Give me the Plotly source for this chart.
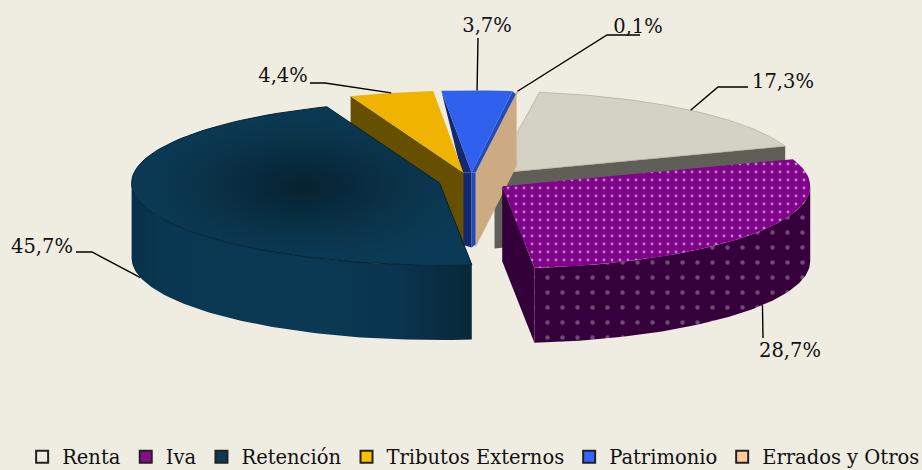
import numpy as np
import plotly.graph_objects as go

categories = ["Renta", "Iva", "Retención", "Tributos Externos", "Patrimonio", "Errados y Otros"]
values = [17.3, 28.7, 45.7, 4.4, 3.7, 0.1]
legend_colors = ["#efece2", "#8a0a8c", "#0b3a55", "#ffc000", "#3366ff", "#ffcc99"]
top_colors = ["#d4d1c5", "#80048a", "#0b3a56", "#f0b400", "#2f60ee", "#ccaa82"]
wall_colors = ["#5f5f57", "#33003a", "#0a3650", "#665000", "#14296e", "#ccaa82"]

START_DEG = 8.4
CX, CY = 471, 181
RX, RY = 308, 82
DEPTH = 75
PULLS = [0.12, 0.12, 0.105, 0.105, 0.105, 0.105]
label_elbows = [[(718, 87), (748, 87)], [(763, 338)], [(92, 252), (76, 252)],
                [(325, 83), (310, 83)], [(478, 38)], [(607, 35), (640, 35)]]
label_pos = [(783, 83), (790, 352), (42, 248), (283, 77), (487, 27), (638, 28)]
FONT = "DejaVu Serif"
TEXT = "#111111"
BG = "#efece2"

# slice geometry, from the values
ang = [START_DEG]
for v in values:
    ang.append(ang[-1] + v * 3.6)


def apex(i):
    mid = np.radians((ang[i] + ang[i + 1]) / 2)
    return CX + PULLS[i] * RX * np.sin(mid), CY - PULLS[i] * RY * np.cos(mid)


def rim(i, a):
    ax, ay = apex(i)
    t = np.radians(a)
    return ax + RX * np.sin(t), ay - RY * np.cos(t)


def arc(i, a0, a1, n=80):
    t = np.linspace(a0, a1, n)
    x, y = rim(i, t)
    return list(x), list(y)


fig = go.Figure()


def poly(xs, ys, color, lw=0, lc=None, **kw):
    fig.add_trace(go.Scatter(x=xs, y=ys, mode="lines", fill="toself", fillcolor=color if "fillgradient" not in kw else None,
                             line=dict(color=lc or color, width=lw), showlegend=False, hoverinfo="skip", **kw))


def top(i, **kw):
    ax, ay = apex(i)
    x, y = arc(i, ang[i], ang[i + 1])
    poly([ax] + x + [ax], [ay] + y + [ay], top_colors[i], **kw)


def cut_wall(i, a, color):
    ax, ay = apex(i)
    rx_, ry_ = rim(i, a)
    poly([ax, rx_, rx_, ax, ax], [ay, ry_, ry_ + DEPTH, ay + DEPTH, ay], color)


def outer_wall(i, a0, a1, color=None, **kw):
    x, y = arc(i, a0, a1)
    poly(x + x[::-1] + [x[0]], y + [v + DEPTH for v in y[::-1]] + [y[0]], color or wall_colors[i], **kw)


R, I, T, TR, P, E = 0, 1, 2, 3, 4, 5

# Renta
cut_wall(R, ang[R + 1], wall_colors[R])
top(R, lw=0.5, lc="#9a978c")

# Errados y Otros
cut_wall(E, ang[E], wall_colors[E])
top(E)

# Patrimonio
ax, ay = apex(P)
lx, ly = rim(P, ang[P])
rx_, ry_ = rim(P, ang[P + 1])
poly([ax - 10, ax, ax, ax - 10, ax - 10], [ay, ay, ay + DEPTH, ay + DEPTH - 3, ay], wall_colors[P])
poly([ax, ax + 4, ax + 4, ax, ax], [ay, ay, ay + DEPTH - 3, ay + DEPTH, ay], "#2449b8")
poly([lx, ax - 10, ax, lx], [ly, ay, ay, ly], wall_colors[P])
poly([rx_, ax, ax + 4, rx_ + 3, rx_], [ry_, ay, ay, ry_ + 3, ry_], "#2449b8")
top(P)

# Tributos Externos
cut_wall(TR, ang[TR], wall_colors[TR])
top(TR)

# Retención
outer_wall(T, ang[T], 270, fillgradient=dict(
    type="horizontal",
    colorscale=[[0, "#08304a"], [0.08, "#093650"], [0.5, "#0b3954"], [0.78, "#0a3450"], [1, "#072838"]]))
top(T, lw=1, lc="#04202f", fillgradient=dict(
    type="radial", colorscale=[[0, "#07222f"], [0.3, "#082a3d"], [0.6, "#0a3349"], [1, "#0b3a56"]]))

# Iva
cut_wall(I, ang[I + 1], wall_colors[I])
outer_wall(I, 90, ang[I + 1], fillpattern=dict(
    shape=".", bgcolor="#36003c", fgcolor="#a794a8", size=15, solidity=0.07))
top(I, fillpattern=dict(shape=".", bgcolor="#80048a", fgcolor="#ffffff", size=8, solidity=0.1))

# leader lines
for i, elbows in enumerate(label_elbows):
    mid = (ang[i] + ang[i + 1]) / 2
    x0, y0 = rim(i, mid)
    if 90 < mid % 360 < 270:
        y0 = y0 + DEPTH
    xs = [x0] + [p[0] for p in elbows]
    ys = [y0] + [p[1] for p in elbows]
    fig.add_trace(go.Scatter(x=xs, y=ys, mode="lines", line=dict(color="#000000", width=1.4),
                             showlegend=False, hoverinfo="skip"))

# value labels
fig.add_trace(go.Scatter(
    x=[p[0] for p in label_pos], y=[p[1] for p in label_pos], mode="text",
    text=[f"{v:.1f}%".replace(".", ",") for v in values],
    textfont=dict(family=FONT, size=19.5, color=TEXT),
    showlegend=False, hoverinfo="skip"))

# legend
for name, color in zip(categories, legend_colors):
    fig.add_trace(go.Scatter(x=[None], y=[None], mode="markers", name=name,
                             marker=dict(symbol="square", size=11, color=color,
                                         line=dict(color="#222222", width=1.2))))

fig.update_layout(
    width=922, height=470, margin=dict(l=0, r=0, t=0, b=0, autoexpand=False),
    paper_bgcolor=BG, plot_bgcolor=BG,
    xaxis=dict(range=[0, 922], visible=False, fixedrange=True),
    yaxis=dict(range=[470, 0], visible=False, fixedrange=True),
    legend=dict(orientation="h", x=0.024, xanchor="left", y=-0.014, yanchor="bottom",
                font=dict(family=FONT, size=19.5, color=TEXT), bgcolor="rgba(0,0,0,0)",
                itemsizing="constant"),
)
fig.write_html("out.html", config={"displayModeBar": False},
               post_script="document.body.style.margin='0';document.body.style.background='#efece2';")
